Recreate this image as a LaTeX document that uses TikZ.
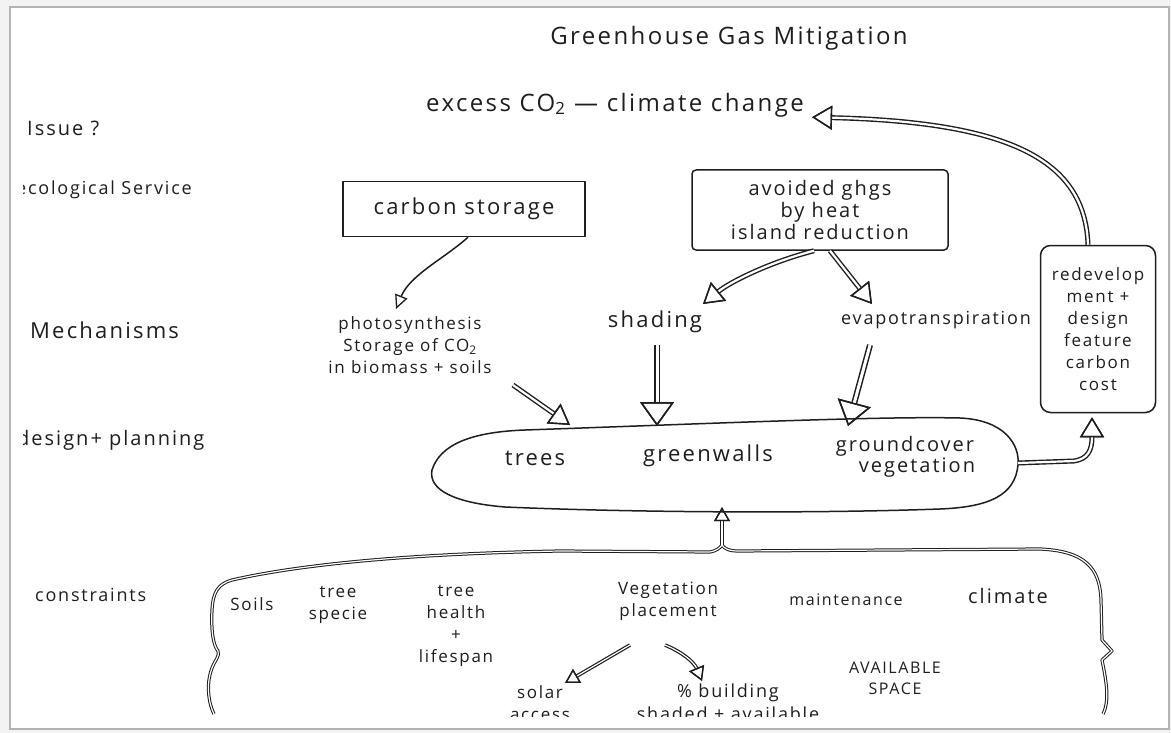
\documentclass[tikz,border=0pt]{standalone}
\usepackage{fontspec}
\newfontfamily\hand[LetterSpace=10]{Open Sans}
\usetikzlibrary{arrows.meta,calc}
\definecolor{ink}{HTML}{1E1E1E}
\definecolor{edge}{HTML}{B4B4B4}
\definecolor{outside}{HTML}{F3F3F3}

\tikzset{
  x=1pt, y=-1pt,
  every node/.style={text=ink, inner sep=0pt, align=center},
  f16/.style={font=\hand\fontsize{16}{21}\selectfont},
  f17/.style={font=\hand\fontsize{17}{22}\selectfont},
  f18/.style={font=\hand\fontsize{18}{23}\selectfont},
  f20/.style={font=\hand\fontsize{20}{23}\selectfont},
  f22/.style={font=\hand\fontsize{22}{26}\selectfont},
  f24/.style={font=\hand\fontsize{24}{28}\selectfont},
  pen/.style={draw=ink, line width=1.5pt, line cap=round, line join=round},
  hol/.style={preaction={draw=ink, line width=5pt},
    draw=white, line width=2.2pt,
    -{Triangle[open, length=20pt, width=24pt, line width=1.4pt, color=ink]}},
  holbig/.style={preaction={draw=ink, line width=6pt},
    draw=white, line width=3pt,
    -{Triangle[open, length=24pt, width=34pt, line width=1.5pt, color=ink]}},
  holsmall/.style={preaction={draw=ink, line width=3.6pt},
    draw=white, line width=1.2pt,
    -{Triangle[open, length=14pt, width=16pt, line width=1.3pt, color=ink]}},
  thinar/.style={draw=ink, line width=1.5pt,
    -{Triangle[open, length=14pt, width=13pt, line width=1.3pt]}},
  brace/.style={draw=ink, line width=1pt, double=white, double distance=1.2pt,
    line join=round},
}

\begin{document}
\begin{tikzpicture}
\useasboundingbox (0,0) rectangle (1171,733);
% sheet of paper
\fill[outside] (0,0) rectangle (1171,733);
\fill[white] (10,7) rectangle (1169,729);
\draw[edge, line width=1.6pt] (10,7) rectangle (1169,729);

\begin{scope}
\clip (23,9) rectangle (1167,716);

% headings
\node[f24] (title) at (729,38) {Greenhouse Gas Mitigation};
\node[f24] (issue) at (615,105) {excess CO\textsubscript{2} — climate change};

% row labels
\node[f20, anchor=west] (lIssue) at (27,128) {Issue ?};
\node[f18, anchor=west] (lEco) at (16,190) {ecological Service};
\node[f22, anchor=west] (lMech) at (30,330) {Mechanisms};
\node[f20, anchor=west] (lDes) at (17,440) {design+ planning};
\node[f18, anchor=west] (lCons) at (35,595) {constraints};

% ecological services
\node[f22, pen, minimum width=242pt, minimum height=55pt] (cs) at (464,209) {carbon storage};
\node[pen, minimum width=256pt, minimum height=80pt, rounded corners=4pt,
      font=\hand\fontsize{20}{22}\selectfont] (av) at (820,210)
      {avoided ghgs\\by heat\\island reduction};

% mechanisms
\node[f17] (photo) at (410,345) {photosynthesis\\Storage of CO\textsubscript{2}\\in biomass + soils};
\node[f22] (shade) at (655,322) {shading};
\node[f18] (evap) at (936,320) {evapotranspiration};
\node[pen, rounded corners=10pt, minimum width=115pt, minimum height=167pt,
      font=\hand\fontsize{17}{22}\selectfont] (redev) at (1098,329)
      {redevelop\\ment +\\design\\feature\\carbon\\cost};

% design + planning
\node[minimum width=586pt, minimum height=88pt] (veg) at (725,463) {};
\draw[pen] (432,470) .. controls (440,445) and (470,432) .. (525,430)
  .. controls (700,424) and (880,416) .. (960,418)
  .. controls (1005,420) and (1020,445) .. (1018,465)
  .. controls (1015,495) and (990,507) .. (940,509)
  .. controls (800,514) and (620,512) .. (505,507)
  .. controls (455,503) and (428,490) .. (432,470) -- cycle;
\node[f22] (trees) at (535,458) {trees};
\node[f22] (walls) at (708,456) {greenwalls};
\node[font=\hand\fontsize{20}{18}\selectfont] (ground) at (905,457) {groundcover\\\hspace*{1.2em}vegetation};

% constraints
\node[f17] (soils) at (252,604) {Soils};
\node[f17] (species) at (338,605) {tree\\specie};
\node[f17] (health) at (456,626) {tree\\health\\+\\lifespan};
\node[f17] (place) at (668,601) {Vegetation\\placement};
\node[f16] (maint) at (846,600) {maintenance};
\node[f20] (clim) at (1008,596) {climate};
\node[f16] (space) at (895,678) {AVAILABLE\\SPACE};
\node[f17, anchor=north] (solar) at (540,685) {solar\\access};
\node[f18, anchor=north] (bldg) at (728,684) {\% building\\shaded + available};

% brace gathering the constraints
\node[minimum width=10pt, minimum height=4pt] (bt) at (722,545) {};
\draw[brace] (214,714) .. controls (207,700) and (207,680) .. (212,668)
  .. controls (215,660) and (220,656) .. (218,651)
  .. controls (213,645) and (211,630) .. (212,610)
  .. controls (213,592) and (218,584) .. (232,580)
  .. controls (320,560) and (450,553) .. (560,551)
  -- (710,552) .. controls (716,551) and (720,548) .. (bt.center)
  .. controls (724,548) and (728,551) .. (738,551)
  -- (1040,549)
  .. controls (1085,551) and (1100,568) .. (1101,600)
  -- (1102,640) -- (1112,651) -- (1102,660)
  .. controls (1106,680) and (1110,700) .. (1103,714);

% connectors
\draw[thinar] ([xshift=4pt]cs.south) .. controls (445,258) and (410,275) .. ([shift={(-14,-36)}]photo.center);
\draw[hol] ([shift={(103,40)}]photo.center) -- ([shift={(35,-33)}]trees.center);
\draw[hol] ([xshift=-6pt]av.south) .. controls (770,262) and (730,282) .. ([shift={(48,-18)}]shade.center);
\draw[hol] ([xshift=10pt]av.south) -- ([shift={(-64,-16)}]evap.center);
\draw[holbig] ([shift={(2,23)}]shade.center) -- ([shift={(-68,-37)}]veg.center);
\draw[holbig] ([shift={(-66,25)}]evap.center) -- ([shift={(123,-37)}]veg.center);
\draw[hol] (veg.east) -- (1074,461) .. controls (1088,459) and (1092,450) .. ([shift={(-6,4)}]redev.south);
\draw[hol] ([xshift=-10pt]redev.north) .. controls (1085,160) and (1010,122) .. ([xshift=8pt]issue.south east);
\draw[holsmall] (bt.center) -- ([xshift=-3pt]veg.south);
\draw[holsmall] ([shift={(-38,44)}]place.center) -- ([shift={(25,-2)}]solar.north);
\draw[holsmall] ([shift={(-3,44)}]place.center) .. controls (682,652) and (694,662) .. ([shift={(-26,-3)}]bldg.north);
\end{scope}
\end{tikzpicture}
\end{document}
